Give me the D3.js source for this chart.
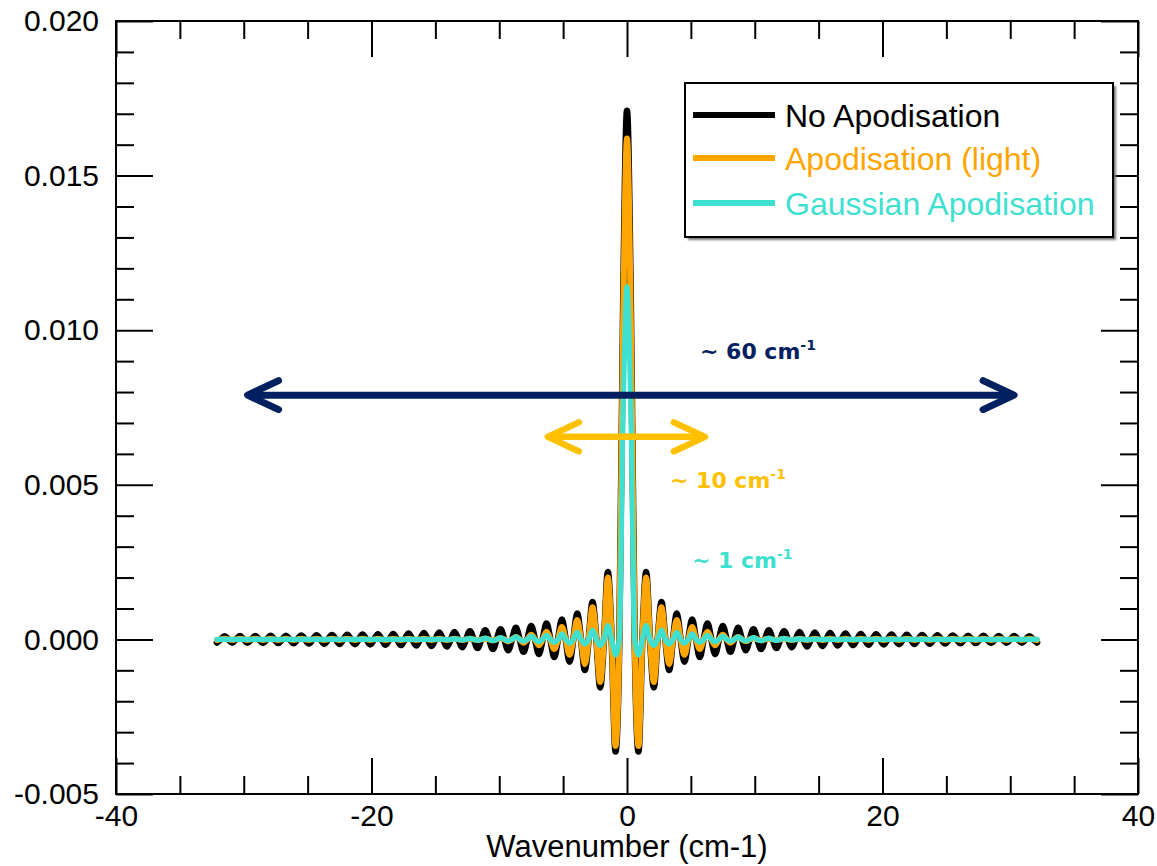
<!DOCTYPE html>
<html><head><meta charset="utf-8">
<script src="https://cdn.jsdelivr.net/npm/d3@7"></script>
<style>
html,body{margin:0;padding:0;background:#fff;}
svg{display:block;}
</style></head>
<body>
<svg id="chart" width="1157" height="866"></svg>
<script>
// sample grid (cm-1), spacing 0.3
const wavenumber = d3.range(-107, 108).map(k => +(k * 0.3).toFixed(1));

const noApodisation = [
-0.000102, 0, 0.000104, 0, -0.000106, 0, 0.000108, 0, -0.00011, 0,
0.000112, 0, -0.000115, 0, 0.000117, 0, -0.00012, 0, 0.000122, 0,
-0.000125, 0, 0.000128, 0, -0.000131, 0, 0.000134, 0, -0.000138, 0,
0.000141, 0, -0.000145, 0, 0.000149, 0, -0.000153, 0, 0.000158, 0,
-0.000162, 0, 0.000167, 0, -0.000173, 0, 0.000178, 0, -0.000185, 0,
0.000191, 0, -0.000198, 0, 0.000205, 0, -0.000213, 0, 0.000222, 0,
-0.000232, 0, 0.000242, 0, -0.000253, 0, 0.000266, 0, -0.000279, 0,
0.000294, 0, -0.000311, 0, 0.00033, 0, -0.000351, 0, 0.000375, 0,
-0.000403, 0, 0.000435, 0, -0.000473, 0, 0.000518, 0, -0.000573, 0,
0.00064, 0, -0.000726, 0, 0.000837, 0, -0.00099, 0, 0.00121, 0,
-0.001555, 0, 0.002177, 0, -0.003629, 0, 0.01089,
0.0171,
0.01089, 0, -0.003629, 0, 0.002177, 0, -0.001555,
0, 0.00121, 0, -0.00099, 0, 0.000837, 0, -0.000726, 0, 0.00064,
0, -0.000573, 0, 0.000518, 0, -0.000473, 0, 0.000435, 0, -0.000403,
0, 0.000375, 0, -0.000351, 0, 0.00033, 0, -0.000311, 0, 0.000294,
0, -0.000279, 0, 0.000266, 0, -0.000253, 0, 0.000242, 0, -0.000232,
0, 0.000222, 0, -0.000213, 0, 0.000205, 0, -0.000198, 0, 0.000191,
0, -0.000185, 0, 0.000178, 0, -0.000173, 0, 0.000167, 0, -0.000162,
0, 0.000158, 0, -0.000153, 0, 0.000149, 0, -0.000145, 0, 0.000141,
0, -0.000138, 0, 0.000134, 0, -0.000131, 0, 0.000128, 0, -0.000125,
0, 0.000122, 0, -0.00012, 0, 0.000117, 0, -0.000115, 0, 0.000112,
0, -0.00011, 0, 0.000108, 0, -0.000106, 0, 0.000104, 0, -0.000102
];

const lightApodisation = [
-0.00002, 0, 0.00002, 0, -0.00002, 0, 0.00002, 0, -0.00002, 0,
0.00002, 0, -0.00002, 0, 0.00002, 0, -0.00002, 0, 0.00002, 0,
-0.00002, 0, 0.00002, 0, -0.00002, 0, 0.00002, 0, -0.00002, 0,
0.00002, 0, -0.00002, 0, 0.00002, 0, -0.00002, 0, 0.00002, 0,
-0.00002, 0, 0.00002, 0, -0.00002, 0, 0.00002, 0, -0.00002, 0,
0.00002, 0, -0.00002, 0, 0.00002, 0, -0.00002, 0, 0.00002, 0,
-0.00002, 0, 0.00002, 0, -0.00002, 0, 0.00002, 0, -0.00002, 0,
0.00002, 0, -0.00003, 0, 0.00004, 0, -0.00006, 0, 0.00008, 0,
-0.00011, 0, 0.00015, 0, -0.00019, 0, 0.00025, 0, -0.00031, 0,
0.0004, 0, -0.0005, 0, 0.00063, 0, -0.0008, 0, 0.00104, 0,
-0.00138, 0, 0.002, 0, -0.00345, 0, 0.01035,
0.0162,
0.01035, 0, -0.00345, 0, 0.002, 0, -0.00138,
0, 0.00104, 0, -0.0008, 0, 0.00063, 0, -0.0005, 0, 0.0004,
0, -0.00031, 0, 0.00025, 0, -0.00019, 0, 0.00015, 0, -0.00011,
0, 0.00008, 0, -0.00006, 0, 0.00004, 0, -0.00003, 0, 0.00002,
0, -0.00002, 0, 0.00002, 0, -0.00002, 0, 0.00002, 0, -0.00002,
0, 0.00002, 0, -0.00002, 0, 0.00002, 0, -0.00002, 0, 0.00002,
0, -0.00002, 0, 0.00002, 0, -0.00002, 0, 0.00002, 0, -0.00002,
0, 0.00002, 0, -0.00002, 0, 0.00002, 0, -0.00002, 0, 0.00002,
0, -0.00002, 0, 0.00002, 0, -0.00002, 0, 0.00002, 0, -0.00002,
0, 0.00002, 0, -0.00002, 0, 0.00002, 0, -0.00002, 0, 0.00002,
0, -0.00002, 0, 0.00002, 0, -0.00002, 0, 0.00002, 0, -0.00002
];

const gaussianApodisation = [
0, 0, 0, 0, 0, 0, 0, 0, 0, 0,
0, 0, 0, 0, 0, 0, 0, 0, 0, 0,
0, 0, 0, 0, 0, 0, 0, 0, 0, 0,
0, 0, 0, 0, 0, 0, 0, 0, 0, 0,
0, 0, 0, 0, 0, 0, 0, 0, 0, 0,
0, 0, 0, 0, 0, 0, 0, 0, 0.00001, 0,
-0.00001, 0, 0.00002, 0, -0.00002, 0, 0.00003, 0, -0.00003, 0,
0.00004, 0, -0.00004, 0, 0.00006, 0, -0.00005, 0, 0.00008, 0,
-0.00006, 0, 0.00011, 0, -0.00008, 0, 0.00014, 0, -0.0001, 0,
0.00018, 0, -0.00012, 0, 0.00023, 0, -0.00015, 0, 0.0003, 0,
-0.0002, 0, 0.00045, 0, -0.0005, 0, 0.0074,
0.0114,
0.0074, 0, -0.0005, 0, 0.00045, 0, -0.0002,
0, 0.0003, 0, -0.00015, 0, 0.00023, 0, -0.00012, 0, 0.00018,
0, -0.0001, 0, 0.00014, 0, -0.00008, 0, 0.00011, 0, -0.00006,
0, 0.00008, 0, -0.00005, 0, 0.00006, 0, -0.00004, 0, 0.00004,
0, -0.00003, 0, 0.00003, 0, -0.00002, 0, 0.00002, 0, -0.00001,
0, 0.00001, 0, 0, 0, 0, 0, 0, 0, 0,
0, 0, 0, 0, 0, 0, 0, 0, 0, 0,
0, 0, 0, 0, 0, 0, 0, 0, 0, 0,
0, 0, 0, 0, 0, 0, 0, 0, 0, 0,
0, 0, 0, 0, 0, 0, 0, 0, 0, 0,
0, 0, 0, 0, 0, 0, 0, 0, 0, 0
];

const seriesNames = ["No Apodisation", "Apodisation (light)", "Gaussian Apodisation"];
const seriesColors = ["#000000", "#FFA500", "#40E0D0"];

const xMajorTicks = [-40, -20, 0, 20, 40];
const xTickLabels = ["-40", "-20", "0", "20", "40"];
const xMinorTicks = [-35, -30, -25, -15, -10, -5, 5, 10, 15, 25, 30, 35];
const yMajorTicks = [-0.005, 0, 0.005, 0.010, 0.015, 0.020];
const yTickLabels = ["-0.005", "0.000", "0.005", "0.010", "0.015", "0.020"];
const yMinorTicks = [-0.004, -0.003, -0.002, -0.001, 0.001, 0.002, 0.003, 0.004,
  0.006, 0.007, 0.008, 0.009, 0.011, 0.012, 0.013, 0.014, 0.016, 0.017, 0.018, 0.019];
const xAxisTitle = "Wavenumber (cm-1)";

// width annotations: arrow spans (cm-1) and the level they sit at
const annotationTexts = ["~ 60 cm", "~ 10 cm", "~ 1 cm"];
const annotationSup = ["-1", "-1", "-1"];
const arrowSpans = [[-29.7, 30.3], [-6.2, 6.1]];
const arrowLevels = [0.0079, 0.00655];

[noApodisation, lightApodisation, gaussianApodisation].forEach(s => {
  if (s.length !== wavenumber.length) throw new Error("length mismatch " + s.length);
});

const L = 116, R = 1138, T = 21, B = 794;
const svg = d3.select("#chart");
const x = d3.scaleLinear().domain([-40, 40]).range([L, R]);
const y = d3.scaleLinear().domain([-0.005, 0.020]).range([B, T]);
const FONT = "'Liberation Sans', Arial, Helvetica, sans-serif";
const BOLD = "'DejaVu Sans', Verdana, sans-serif";

// curves
const line = d3.line().x((d, i) => x(wavenumber[i])).y(d => y(d)).curve(d3.curveMonotoneX);
const widths = [6.5, 6, 5.2];
[noApodisation, lightApodisation, gaussianApodisation].forEach((s, j) => {
  svg.append("path").datum(s).attr("d", line)
    .attr("fill", "none").attr("stroke", seriesColors[j])
    .attr("stroke-width", widths[j]).attr("stroke-linejoin", "round").attr("stroke-linecap", "round");
});

// arrows
const arrowColors = ["#002060", "#FFC000"];
const arrowWidths = [7, 6.5];
arrowSpans.forEach((sp, j) => {
  const g = svg.append("g").attr("stroke", arrowColors[j]).attr("fill", "none")
    .attr("stroke-width", arrowWidths[j]).attr("stroke-linecap", "round").attr("stroke-linejoin", "round");
  const x0 = x(sp[0]), x1 = x(sp[1]), yy = y(arrowLevels[j]);
  const ax = 31, ay = 14.5;
  g.append("line").attr("x1", x0 + 3).attr("x2", x1 - 3).attr("y1", yy).attr("y2", yy);
  g.append("path").attr("d", `M${x0 + ax},${yy - ay}L${x0},${yy}L${x0 + ax},${yy + ay}`);
  g.append("path").attr("d", `M${x1 - ax},${yy - ay}L${x1},${yy}L${x1 - ax},${yy + ay}`);
});

// annotation labels
const annPos = [[700, 359], [670, 488], [692, 568]];
const annColors = ["#002060", "#FFC000", "#40E0D0"];
annotationTexts.forEach((t, j) => {
  const tx = svg.append("text").attr("x", annPos[j][0]).attr("y", annPos[j][1])
    .attr("font-family", BOLD).attr("font-weight", "bold").attr("font-size", 22)
    .attr("fill", annColors[j]);
  tx.append("tspan").text(t);
  tx.append("tspan").attr("dy", -9).attr("font-size", 14).text(annotationSup[j]);
});

// axes (ticks inward)
function styleAxis(g, fs) {
  g.select(".domain").remove();
  g.selectAll(".tick line").attr("stroke", "#000").attr("stroke-width", 2);
  g.attr("font-family", FONT).attr("font-size", fs);
  g.selectAll(".tick text").attr("fill", "#000");
}
svg.append("g").attr("transform", `translate(0,${B})`)
  .call(d3.axisBottom(x).tickValues(xMajorTicks).tickSize(-36).tickPadding(11).tickFormat((d, i) => xTickLabels[i]))
  .call(g => styleAxis(g, 30));
svg.append("g").attr("transform", `translate(0,${B})`)
  .call(d3.axisBottom(x).tickValues(xMinorTicks).tickSize(-18).tickFormat(""))
  .call(g => styleAxis(g, 30));
svg.append("g").attr("transform", `translate(0,${T})`)
  .call(d3.axisTop(x).tickValues(xMajorTicks).tickSize(-36).tickFormat(""))
  .call(g => styleAxis(g, 30));
svg.append("g").attr("transform", `translate(0,${T})`)
  .call(d3.axisTop(x).tickValues(xMinorTicks).tickSize(-18).tickFormat(""))
  .call(g => styleAxis(g, 30));
svg.append("g").attr("transform", `translate(${L},0)`)
  .call(d3.axisLeft(y).tickValues(yMajorTicks).tickSize(-37).tickPadding(17).tickFormat((d, i) => yTickLabels[i]))
  .call(g => styleAxis(g, 30));
svg.append("g").attr("transform", `translate(${L},0)`)
  .call(d3.axisLeft(y).tickValues(yMinorTicks).tickSize(-18).tickFormat(""))
  .call(g => styleAxis(g, 30));
svg.append("g").attr("transform", `translate(${R},0)`)
  .call(d3.axisRight(y).tickValues(yMajorTicks).tickSize(-37).tickFormat(""))
  .call(g => styleAxis(g, 30));
svg.append("g").attr("transform", `translate(${R},0)`)
  .call(d3.axisRight(y).tickValues(yMinorTicks).tickSize(-18).tickFormat(""))
  .call(g => styleAxis(g, 30));
svg.append("rect").attr("x", L).attr("y", T).attr("width", R - L).attr("height", B - T)
  .attr("fill", "none").attr("stroke", "#000").attr("stroke-width", 2);

svg.append("text").attr("x", (L + R) / 2).attr("y", 857).attr("text-anchor", "middle")
  .attr("font-family", FONT).attr("font-size", 31).attr("fill", "#000").text(xAxisTitle);

// legend
const defs = svg.append("defs");
defs.append("filter").attr("id", "blur").append("feGaussianBlur").attr("stdDeviation", 1.2);
const lg = svg.append("g");
lg.append("rect").attr("x", 688).attr("y", 86).attr("width", 428).attr("height", 154)
  .attr("fill", "#777").attr("filter", "url(#blur)");
lg.append("rect").attr("x", 685).attr("y", 83).attr("width", 428).attr("height", 154)
  .attr("fill", "#fff").attr("stroke", "#000").attr("stroke-width", 2);
const rowY = [115, 158, 203];
seriesNames.forEach((n, j) => {
  lg.append("line").attr("x1", 693).attr("x2", 775).attr("y1", rowY[j]).attr("y2", rowY[j])
    .attr("stroke", seriesColors[j]).attr("stroke-width", 6);
  lg.append("text").attr("x", 785).attr("y", rowY[j] + 12)
    .attr("font-family", FONT).attr("font-size", 32).attr("fill", seriesColors[j]).text(n);
});
</script>
</body></html>
